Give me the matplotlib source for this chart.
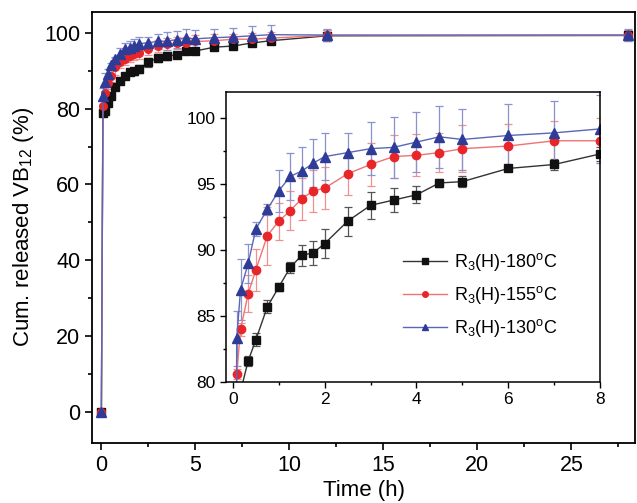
import matplotlib
matplotlib.use('Agg')
import matplotlib.pyplot as plt
from matplotlib.lines import Line2D
from matplotlib.ticker import MultipleLocator

plt.rcParams['font.family'] = ['Liberation Sans', 'DejaVu Sans']
plt.rcParams['mathtext.fontset'] = 'custom'
plt.rcParams['mathtext.rm'] = 'Liberation Sans'
plt.rcParams['mathtext.it'] = 'Liberation Sans'

# Release data (time in hours, cumulative release in %)
t = [0, 0.083, 0.167, 0.333, 0.5, 0.75, 1, 1.25, 1.5, 1.75, 2, 2.5, 3, 3.5,
     4, 4.5, 5, 6, 7, 8, 9, 12, 28]

r180 = [0, 78.8, 79.3, 81.6, 83.2, 85.7, 87.2, 88.7, 89.6, 89.8, 90.5, 92.2,
        93.4, 93.8, 94.2, 95.1, 95.2, 96.2, 96.5, 97.3, 97.9, 99.2, 99.3]
r180_err = [0, 0.6, 0.5, 0.4, 0.5, 0.5, 0.3, 0.4, 0.8, 0.9, 1.1, 1.1, 1.0,
            0.9, 0.65, 0.3, 0.4, 0.2, 0.4, 0.5, 0.6, 1.5, 1.2]

r155 = [0, 80.6, 84.0, 86.7, 88.5, 91.1, 92.2, 93.0, 93.9, 94.5, 94.7, 95.8,
        96.5, 97.1, 97.2, 97.4, 97.7, 97.9, 98.3, 98.3, 98.6, 99.3, 99.3]
r155_err = [0, 0.4, 0.5, 1.4, 1.6, 2.2, 1.4, 1.5, 1.6, 1.6, 1.6, 1.6, 1.6,
            1.6, 1.6, 1.5, 1.8, 1.7, 1.5, 1.7, 1.6, 1.5, 1.5]

r130 = [0, 83.3, 87.0, 89.0, 91.6, 93.1, 94.5, 95.6, 96.0, 96.6, 97.1, 97.4,
        97.7, 97.8, 98.2, 98.6, 98.4, 98.7, 98.9, 99.2, 99.5, 99.4, 99.4]
r130_err = [0, 2.1, 2.3, 1.5, 0.5, 0.4, 1.6, 1.8, 1.8, 1.8, 1.8, 1.5, 2.0,
            2.3, 2.3, 2.35, 2.3, 2.4, 2.4, 2.6, 2.5, 1.7, 1.7]

labels = ['R$_3$(H)-180$^{\\rm o}$C', 'R$_3$(H)-155$^{\\rm o}$C',
          'R$_3$(H)-130$^{\\rm o}$C']

# style per series: marker, marker colour, line colour, errorbar colour
styles = [
    ('s', '#111111', '#333333', '#555555'),
    ('o', '#e8262a', '#f07272', '#f29090'),
    ('^', '#2e3c98', '#5a66b8', '#8a94cc'),
]
series = [(r180, r180_err), (r155, r155_err), (r130, r130_err)]

fig = plt.figure(figsize=(6.37, 5.03), dpi=100)
ax = fig.add_axes([0.1444, 0.1193, 0.853, 0.857])

for (y, e), (m, mc, lc, ec) in zip(series, styles):
    ax.errorbar(t, y, yerr=e, color=lc, ecolor=ec, elinewidth=0.9, capsize=3,
                capthick=0.9, lw=1.0, marker=m, ms=5.5 if m != '^' else 6.5,
                mfc=mc, mec=mc)

ax.set_xlim(-0.5, 28.4)
ax.set_ylim(-8.2, 105.5)
ax.xaxis.set_major_locator(MultipleLocator(5))
ax.xaxis.set_minor_locator(MultipleLocator(2.5))
ax.yaxis.set_major_locator(MultipleLocator(20))
ax.yaxis.set_minor_locator(MultipleLocator(10))
ax.tick_params(which='both', direction='out', labelsize=15.5, width=1.2)
ax.tick_params(which='major', length=5)
ax.tick_params(which='minor', length=3)
for s in ax.spines.values():
    s.set_linewidth(1.3)
ax.set_xlabel('Time (h)', fontsize=16, labelpad=3)
ax.set_ylabel('Cum. released VB$_{12}$ (%)', fontsize=16, labelpad=6)

# inset: first 8 hours
ins = fig.add_axes([0.3548, 0.2406, 0.5872, 0.5765])
for (y, e), (m, mc, lc, ec) in zip(series, styles):
    ins.errorbar(t, y, yerr=e, color=lc, ecolor=ec, elinewidth=0.9, capsize=3,
                 capthick=0.9, lw=1.0, marker=m, ms=6 if m != '^' else 7.5,
                 mfc=mc, mec=mc)
ins.set_xlim(-0.15, 8)
ins.set_ylim(80, 102)
ins.xaxis.set_major_locator(MultipleLocator(2))
ins.xaxis.set_minor_locator(MultipleLocator(1))
ins.yaxis.set_major_locator(MultipleLocator(5))
ins.yaxis.set_minor_locator(MultipleLocator(2.5))
ins.tick_params(which='both', direction='out', labelsize=12.5, width=1.0)
ins.tick_params(which='major', length=4)
ins.tick_params(which='minor', length=2.5)
for s in ins.spines.values():
    s.set_linewidth(1.1)

handles = [Line2D([], [], color=lc, lw=1.0, marker=m, ms=4, mfc=mc, mec=mc)
           for (m, mc, lc, ec) in styles]
ins.legend(handles, labels, loc='upper left', bbox_to_anchor=(0.455, 0.475),
           frameon=False, fontsize=13, handlelength=2.4, handletextpad=0.4,
           labelspacing=0.6, borderaxespad=0)

fig.savefig('out.png', dpi=100)
